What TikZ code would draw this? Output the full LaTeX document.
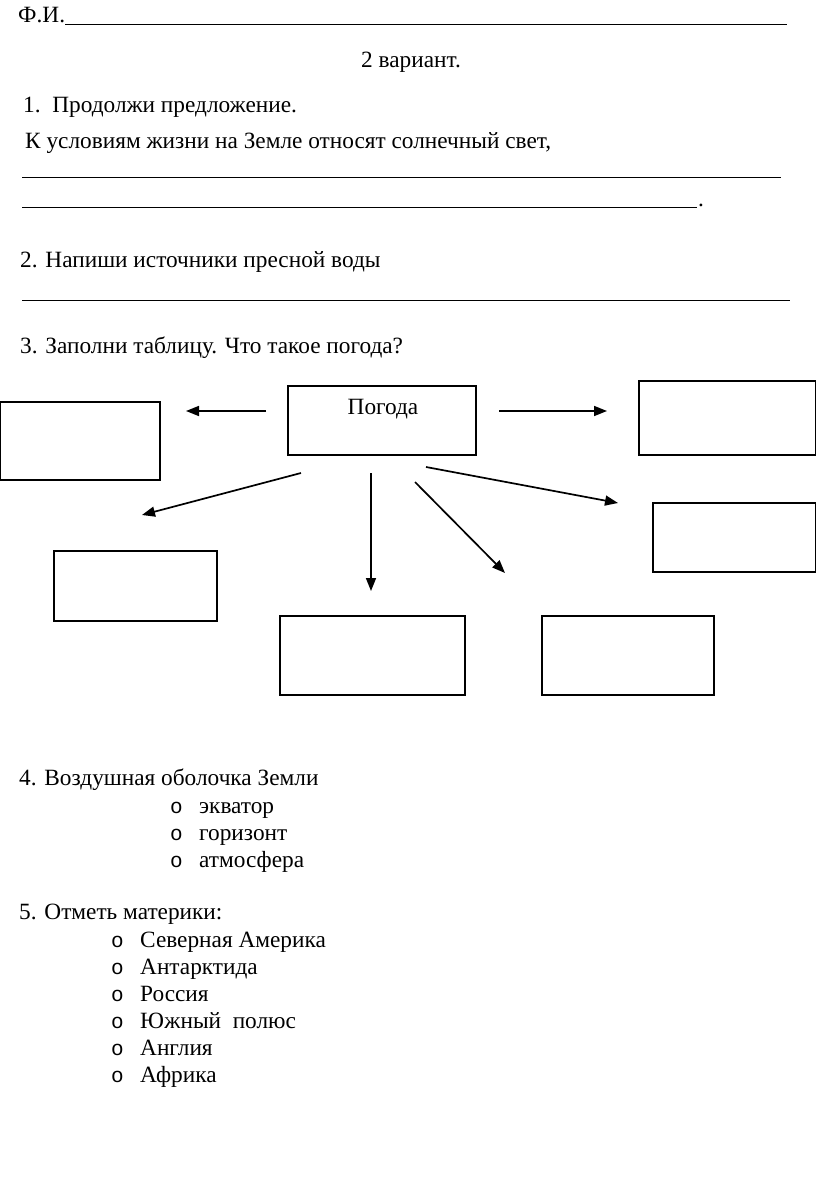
\documentclass[tikz,border=0pt]{standalone}
\usepackage{fontspec}
\setmainfont{Liberation Serif}
\newfontfamily\bulletfont{Liberation Mono}
\usetikzlibrary{arrows.meta}
\tikzset{
  txt/.style={anchor=base west, inner sep=0pt, font=\fontsize{23.3}{28}\selectfont},
  blank/.style={draw, line width=1.4pt},
  fill line/.style={line width=0.9pt},
  arr/.style={line width=1.7pt, -{Triangle[length=13pt,width=10pt]}},
  bul/.style={anchor=base west, inner sep=0pt, font=\bulletfont\fontsize{21}{25}\selectfont},
}
\begin{document}
\begin{tikzpicture}[x=1pt,y=-1pt]
\useasboundingbox (0,0) rectangle (816,1198);
% header
\node[txt] (fio) at (18,23) {Ф.И.};
\coordinate (fioE) at (787,24);
\draw[fill line] (fio.base east) ++(0,1) coordinate (fioS) -- (fioE);
\node[txt, anchor=base] (var) at (411,68) {2 вариант.};
% task 1
\node[txt] (t1) at (23,113) {1.\ \ Продолжи предложение.};
\node[txt] (t1b) at (25,149) {К условиям жизни на Земле относят солнечный свет,};
\coordinate (l1a) at (22,177); \coordinate (l1b) at (781,177);
\draw[fill line] (l1a) -- (l1b);
\coordinate (l2a) at (22,207); \coordinate (l2b) at (697,207);
\draw[fill line] (l2a) -- (l2b);
\node[txt] (dot) at (698,207) {.};
% task 2
\node[txt] (t2) at (20,267) {2. Напиши источники пресной воды};
\coordinate (l3a) at (22,300); \coordinate (l3b) at (790,300);
\draw[fill line] (l3a) -- (l3b);
% task 3
\node[txt] (t3) at (20,353) {3. Заполни таблицу. Что такое погода?};
% diagram
\draw[blank] (288,386) rectangle (476,455);
\node[txt, anchor=base] (pog) at (383,414) {Погода};
\draw[blank] (0.7,402) rectangle (160,480);
\draw[blank] (639,381) rectangle (815.3,455);
\draw[blank] (54,551) rectangle (217,621);
\draw[blank] (653,503) rectangle (815.3,572);
\draw[blank] (280,616) rectangle (465,695);
\draw[blank] (542,616) rectangle (714,695);
\coordinate (aL1) at (266,411); \coordinate (aL2) at (186,411);
\coordinate (aR1) at (499,411); \coordinate (aR2) at (607,411);
\coordinate (aDL1) at (301,473); \coordinate (aDL2) at (142,515);
\coordinate (aD1) at (371,473); \coordinate (aD2) at (371,591);
\coordinate (aDR1) at (415,482); \coordinate (aDR2) at (505,573);
\coordinate (aRR1) at (426,467); \coordinate (aRR2) at (618,503);
\draw[arr] (aL1) -- (aL2);
\draw[arr] (aR1) -- (aR2);
\draw[arr] (aDL1) -- (aDL2);
\draw[arr] (aD1) -- (aD2);
\draw[arr] (aDR1) -- (aDR2);
\draw[arr] (aRR1) -- (aRR2);
% task 4
\node[txt] (t4) at (19,785) {4. Воздушная оболочка Земли};
\node[bul] (b41) at (170,813) {o}; \node[txt] (i41) at (199,813) {экватор};
\node[bul] (b42) at (170,840) {o}; \node[txt] (i42) at (199,840) {горизонт};
\node[bul] (b43) at (170,867) {o}; \node[txt] (i43) at (199,867) {атмосфера};
% task 5
\node[txt] (t5) at (19,919) {5. Отметь материки:};
\node[bul] (b51) at (111,947) {o}; \node[txt] (i51) at (140,947) {Северная Америка};
\node[bul] (b52) at (111,974) {o}; \node[txt] (i52) at (140,974) {Антарктида};
\node[bul] (b53) at (111,1001) {o}; \node[txt] (i53) at (140,1001) {Россия};
\node[bul] (b54) at (111,1028) {o}; \node[txt] (i54) at (140,1028) {Южный\ \ полюс};
\node[bul] (b55) at (111,1055) {o}; \node[txt] (i55) at (140,1055) {Англия};
\node[bul] (b56) at (111,1082) {o}; \node[txt] (i56) at (140,1082) {Африка};
\end{tikzpicture}
\end{document}
